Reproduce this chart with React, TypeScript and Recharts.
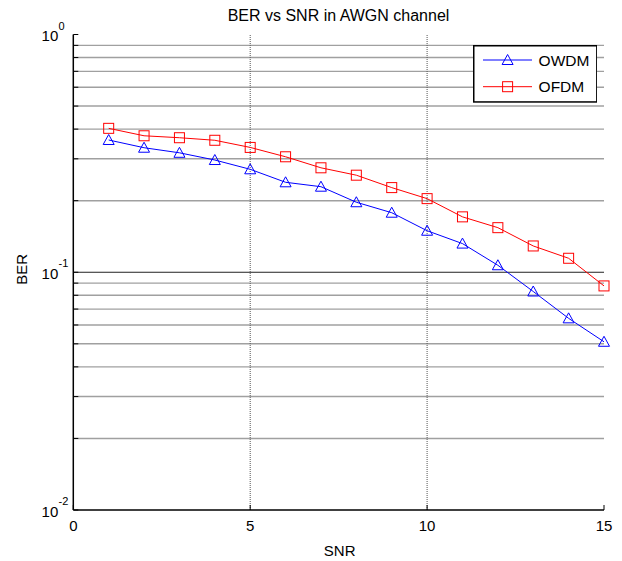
import React from 'react';
import { LineChart, Line, XAxis, YAxis, ReferenceLine, Legend } from 'recharts';

const snr = [1, 2, 3, 4, 5, 6, 7, 8, 9, 10, 11, 12, 13, 14, 15];
const owdm = [0.360, 0.334, 0.318, 0.2965, 0.271, 0.239, 0.229, 0.197, 0.178, 0.1495, 0.132, 0.107, 0.083, 0.064, 0.051];
const ofdm = [0.403, 0.375, 0.368, 0.359, 0.335, 0.306, 0.275, 0.256, 0.227, 0.204, 0.171, 0.154, 0.129, 0.1145, 0.0876];
const seriesKeys = ['owdm', 'ofdm'];
const seriesNames = { owdm: 'OWDM', ofdm: 'OFDM' };
const xTicks = [0, 5, 10, 15];
const yTicks = [0.01, 0.02, 0.03, 0.04, 0.05, 0.06, 0.07, 0.08, 0.09, 0.1, 0.2, 0.3, 0.4, 0.5, 0.6, 0.7, 0.8, 0.9, 1];
const minorGrid = [0.02, 0.03, 0.04, 0.05, 0.06, 0.07, 0.08, 0.09, 0.2, 0.3, 0.4, 0.5, 0.6, 0.7, 0.8, 0.9];
const majorGrid = [0.1];
const xGrid = [5, 10];
const title = 'BER vs SNR in AWGN channel';
const xLabel = 'SNR';
const yLabel = 'BER';

const data = snr.map((s, i) => ({ snr: s, owdm: owdm[i], ofdm: ofdm[i] }));

const FONT = '"Liberation Sans", Arial, Helvetica, sans-serif';
const BLUE = '#0000ff';
const RED = '#ff0000';

const majorExp = (v: number) => {
  const e = Math.round(Math.log10(v));
  return Math.abs(v - Math.pow(10, e)) < 1e-9 ? e : null;
};

const LeftTick = (props: any) => {
  const { x, y, payload } = props;
  const e = majorExp(payload.value);
  return (
    <g>
      <line x1={x} x2={x + 5} y1={y} y2={y} stroke="#000" strokeWidth={1} />
      {e !== null && (
        <>
          <text x={x - 15} y={y + 6.5} textAnchor="end" fontSize={15} fontFamily={FONT} fill="#000">10</text>
          <text x={x - 14.7} y={y - 5} textAnchor="start" fontSize={11} fontFamily={FONT} fill="#000">{String(e)}</text>
        </>
      )}
    </g>
  );
};

const RightTick = (props: any) => {
  const { x, y } = props;
  return <line x1={x} x2={x - 5} y1={y} y2={y} stroke="#000" strokeWidth={1} />;
};

const BottomTick = (props: any) => {
  const { x, y, payload } = props;
  return (
    <g>
      <line x1={x} x2={x} y1={y} y2={y - 5} stroke="#000" strokeWidth={1} />
      <text x={x} y={y + 21} textAnchor="middle" fontSize={15} fontFamily={FONT} fill="#000">{payload.value}</text>
    </g>
  );
};

const TopTick = (props: any) => {
  const { x, y } = props;
  return <line x1={x} x2={x} y1={y} y2={y + 5} stroke="#000" strokeWidth={1} />;
};

const YLabelContent = (props: any) => {
  const vb = props.viewBox || { x: 0, y: 0, width: 0, height: 0 };
  const cx = vb.x + 26.7;
  const cy = vb.y + vb.height / 2 - 3;
  return (
    <text x={cx} y={cy} transform={`rotate(-90 ${cx} ${cy})`} textAnchor="middle" fontSize={15} fontFamily={FONT} fill="#000">{yLabel}</text>
  );
};

const XLabelContent = (props: any) => {
  const vb = props.viewBox || { x: 0, y: 0, width: 0, height: 0 };
  const cx = vb.x + vb.width / 2 + 1;
  const cy = vb.y + 46;
  return (
    <text x={cx} y={cy} textAnchor="middle" fontSize={15} fontFamily={FONT} fill="#000">{xLabel}</text>
  );
};

const Triangle = (cx: number, cy: number, color: string, key?: any) => (
  <polygon key={key} points={`${cx},${cy - 5.5} ${cx - 5.5},${cy + 4.5} ${cx + 5.5},${cy + 4.5}`} fill="none" stroke={color} strokeWidth={1} />
);
const Square = (cx: number, cy: number, color: string, key?: any) => (
  <rect key={key} x={cx - 5} y={cy - 5} width={10} height={10} fill="none" stroke={color} strokeWidth={1} />
);

const TriangleDot = (props: any) => {
  const { cx, cy, index } = props;
  if (cx == null || cy == null) return <g key={`t${index}`} />;
  return Triangle(cx, cy, BLUE, `t${index}`);
};
const SquareDot = (props: any) => {
  const { cx, cy, index } = props;
  if (cx == null || cy == null) return <g key={`s${index}`} />;
  return Square(cx, cy, RED, `s${index}`);
};

const LegendBox = (props: any) => {
  const payload = [...(props.payload || [])].sort(
    (a: any, b: any) => seriesKeys.indexOf(a.dataKey) - seriesKeys.indexOf(b.dataKey)
  );
  const w = 124.6;
  const h = 57.7;
  return (
    <svg width={w} height={h} style={{ display: 'block' }}>
      <rect x={0.75} y={0.75} width={w - 1.5} height={h - 1.5} fill="#fff" stroke="#000" strokeWidth={1.5} />
      {payload.map((entry: any, i: number) => {
        const cy = 15 + i * 26.7;
        const color = entry.color;
        return (
          <g key={entry.value}>
            <line x1={10} x2={59} y1={cy} y2={cy} stroke={color} strokeWidth={1} />
            {entry.dataKey === 'owdm' ? Triangle(34.6, cy, color) : Square(34.6, cy, color)}
            <text x={65.6} y={cy + 5.5} fontSize={15.5} fontFamily={FONT} fill="#000">{entry.value}</text>
          </g>
        );
      })}
    </svg>
  );
};

export default function App() {
  return (
    <div style={{ position: 'absolute', left: 0, top: 0, width: 622, height: 561, background: '#fff' }}>
      <LineChart width={622} height={561} data={data} margin={{ top: 34.5, right: 18, bottom: 0, left: 0 }}>
        <XAxis
          dataKey="snr"
          type="number"
          domain={[0, 15]}
          ticks={xTicks}
          interval={0}
          height={51}
          tickSize={0}
          tickMargin={0}
          tickLine={false}
          axisLine={{ stroke: '#000', strokeWidth: 1.5 }}
          tick={BottomTick}
          label={(p: any) => <XLabelContent {...p} />}
        />
        <XAxis
          xAxisId="top"
          orientation="top"
          type="number"
          domain={[0, 15]}
          ticks={xTicks}
          interval={0}
          height={0}
          tickSize={0}
          tickMargin={0}
          tickLine={false}
          axisLine={{ stroke: '#000', strokeWidth: 1.5 }}
          tick={TopTick}
        />
        <YAxis
          scale="log"
          type="number"
          domain={[0.01, 1]}
          allowDataOverflow
          ticks={yTicks}
          interval={0}
          width={73.3}
          tickSize={0}
          tickMargin={0}
          tickLine={false}
          axisLine={{ stroke: '#000', strokeWidth: 1.5 }}
          tick={LeftTick}
          label={(p: any) => <YLabelContent {...p} />}
        />
        <YAxis
          yAxisId="right"
          orientation="right"
          scale="log"
          type="number"
          domain={[0.01, 1]}
          allowDataOverflow
          ticks={yTicks}
          interval={0}
          width={0}
          tickSize={0}
          tickMargin={0}
          tickLine={false}
          axisLine={{ stroke: '#000', strokeWidth: 1.5 }}
          tick={RightTick}
        />
        {minorGrid.map((v) => (
          <ReferenceLine key={`mg${v}`} y={v} stroke="#a0a0a0" strokeWidth={1.4} />
        ))}
        {majorGrid.map((v) => (
          <ReferenceLine key={`Mg${v}`} y={v} stroke="#222" strokeWidth={1} />
        ))}
        {xGrid.map((v) => (
          <ReferenceLine key={`xg${v}`} x={v} stroke="#555" strokeWidth={1} strokeDasharray="1 1" />
        ))}
        <Line
          dataKey="owdm"
          name={seriesNames.owdm}
          stroke={BLUE}
          strokeWidth={1}
          dot={TriangleDot}
          activeDot={false}
          isAnimationActive={false}
        />
        <Line
          dataKey="ofdm"
          name={seriesNames.ofdm}
          stroke={RED}
          strokeWidth={1}
          dot={SquareDot}
          activeDot={false}
          isAnimationActive={false}
        />
        <Legend
          layout="horizontal"
          align="center"
          verticalAlign="middle"
          content={LegendBox}
          wrapperStyle={{ position: 'absolute', left: 472.7, top: 45, width: 125, height: 58 }}
        />
      </LineChart>
      <div
        style={{
          position: 'absolute',
          left: 73,
          width: 531,
          top: 8,
          textAlign: 'center',
          fontFamily: FONT,
          fontSize: 16,
          lineHeight: 1,
          color: '#000',
          whiteSpace: 'nowrap',
        }}
      >
        {title}
      </div>
    </div>
  );
}
